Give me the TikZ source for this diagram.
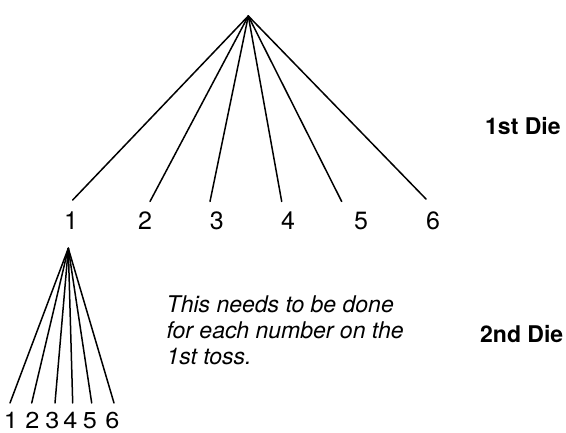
\documentclass[tikz,border=0pt]{standalone}
\usepackage{fontspec}
\setmainfont{TeX Gyre Heros}
\begin{document}
\begin{tikzpicture}[x=1pt,y=-1pt,
  branch/.style={line width=1.5pt, line cap=round},
  dig/.style={inner sep=0pt, anchor=base, font=\fontsize{25}{28}\selectfont},
  smalldig/.style={inner sep=0pt, anchor=base, font=\fontsize{23}{24}\selectfont},
  dielabel/.style={inner sep=0pt, anchor=base west, font=\fontsize{23}{28}\selectfont\bfseries},
  note/.style={inner sep=0pt, anchor=north west, align=left, font=\fontsize{23}{26}\selectfont\itshape}]
\useasboundingbox (0,0) rectangle (566,433);
% first tree
\coordinate (top) at (248.3,16);
\coordinate (e1) at (72.7,200);
\coordinate (e2) at (150,201.5);
\coordinate (e3) at (210,201.5);
\coordinate (e4) at (281.7,201.5);
\coordinate (e5) at (341.7,201.5);
\coordinate (e6) at (426,199);
\foreach \i in {1,...,6} \draw[branch] (top) -- (e\i);
\node[dig] (n1) at (71,230) {1};
\node[dig] (n2) at (145,230) {2};
\node[dig] (n3) at (216.7,230) {3};
\node[dig] (n4) at (288,230) {4};
\node[dig] (n5) at (361,230) {5};
\node[dig] (n6) at (433,230) {6};
\node[dielabel] (d1) at (485,135) {1st Die};
% second tree
\coordinate (top2) at (68.3,248.3);
\coordinate (f1) at (10,403);
\coordinate (f2) at (31.7,403);
\coordinate (f3) at (55,403);
\coordinate (f4) at (72.7,403);
\coordinate (f5) at (91.7,403);
\coordinate (f6) at (114,403);
\foreach \i in {1,...,6} \draw[branch] (top2) -- (f\i);
\node[smalldig] (m1) at (11,428.5) {\scalebox{1.1}[1]{1}};
\node[smalldig] (m2) at (32.5,428.5) {\scalebox{1.1}[1]{2}};
\node[smalldig] (m3) at (52.5,428.5) {\scalebox{1.1}[1]{3}};
\node[smalldig] (m4) at (70.5,428.5) {\scalebox{1.1}[1]{4}};
\node[smalldig] (m5) at (90,428.5) {\scalebox{1.1}[1]{5}};
\node[smalldig] (m6) at (112.5,428.5) {\scalebox{1.1}[1]{6}};
\node[note] (txt) at (166.5,296) {This needs to be done\\for each number on the\\1st toss.};
\node[dielabel] (d2) at (480,343) {2nd Die};
\end{tikzpicture}
\end{document}
